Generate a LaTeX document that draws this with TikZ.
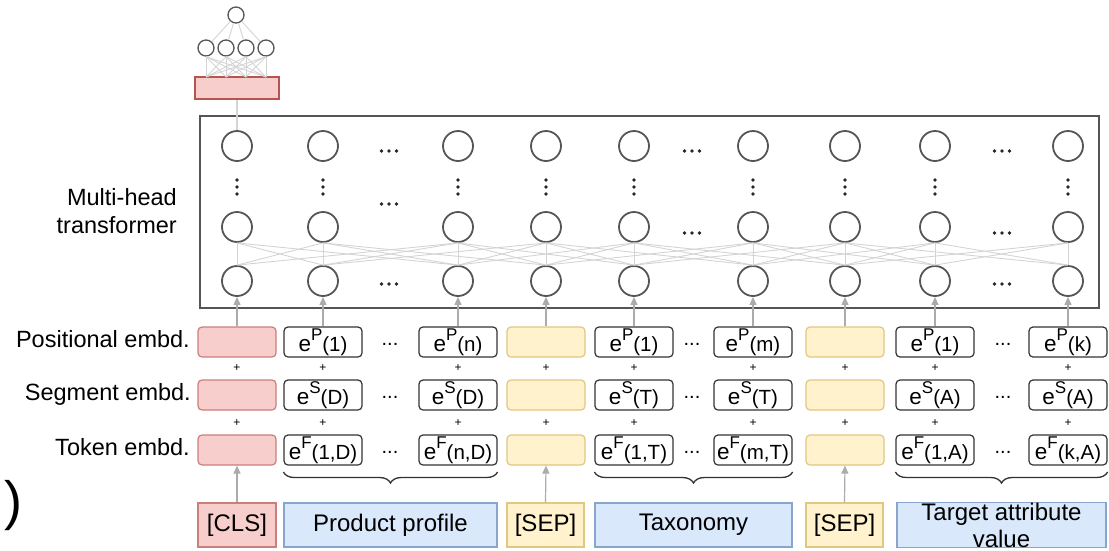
\documentclass[tikz,border=0pt]{standalone}
\usepackage{fontspec}
\setmainfont{Liberation Sans}
\usetikzlibrary{arrows.meta,decorations.pathreplacing,calc}

\definecolor{redfill}{HTML}{F8CECC}
\definecolor{redline}{HTML}{B85450}
\definecolor{yelfill}{HTML}{FFF2CC}
\definecolor{yelline}{HTML}{D6B656}
\definecolor{bluefill}{HTML}{DAE8FC}
\definecolor{blueline}{HTML}{6C8EBF}
\definecolor{ringcol}{HTML}{555555}
\definecolor{wirecol}{HTML}{D4D4D4}
\definecolor{arrowcol}{HTML}{ABABAB}

% embedding symbol: e, raised kind letter, smaller index on the baseline
\newcommand{\embtext}[2]{e\raisebox{11pt}{\fontsize{17}{17}\selectfont #1}{\fontsize{20.5}{20.5}\selectfont #2}}

\tikzset{
  neuron/.style={circle,draw=ringcol,line width=1.8pt,fill=white,minimum size=30pt,inner sep=0pt},
  smallneuron/.style={circle,draw=ringcol,line width=1.3pt,fill=white,minimum size=16pt,inner sep=0pt},
  wire/.style={draw=wirecol,line width=0.9pt},
  uparrow/.style={draw=arrowcol,line width=1.2pt,-{Triangle[width=7pt,length=8pt]}},
  embbox/.style={rectangle,rounded corners=4pt,minimum width=78pt,minimum height=30pt,inner sep=0pt,line width=1.2pt,font=\fontsize{22.5}{22.5}\selectfont},
  ebox/.style={embbox,draw=black!80,fill=white},
  redbox/.style={embbox,draw=redline!75,fill=redfill},
  yelbox/.style={embbox,draw=yelline!75,fill=yelfill},
  inbox/.style={rectangle,minimum height=44pt,inner sep=0pt,line width=1.2pt,font=\fontsize{24}{27}\selectfont,align=center},
  lab/.style={font=\fontsize{23.5}{28}\selectfont,inner sep=0pt},
  plus/.style={font=\fontsize{12}{12}\selectfont,inner sep=0pt},
  brc/.style={draw=black!80,line width=1.3pt,decorate,decoration={brace,mirror,amplitude=11pt}},
}

\begin{document}
\begin{tikzpicture}[x=1pt,y=-1pt]
\useasboundingbox (0,0) rectangle (1109,550);

% ---------- output head ----------
\node[smallneuron] (o) at (236,15) {};
\foreach \x [count=\i] in {206,226,246,266} {
  \node[smallneuron] (h\i) at (\x,48) {};
}
\node[rectangle,draw=redline,fill=redfill,line width=1.2pt,minimum width=84pt,minimum height=22pt,inner sep=0pt] (head) at (237,88) {};
\foreach \i in {1,...,4} {
  \draw[wire] (o) -- (h\i);
  \foreach \x in {206,226,246,266} {
    \coordinate (hx\i\x) at (\x,77);
    \draw[wire] (h\i.south) -- (hx\i\x);
  }
}

% ---------- transformer ----------
\node[draw=ringcol,line width=2pt,minimum width=899pt,minimum height=192pt,inner sep=0pt] (tbox) at (649.5,212) {};
\foreach \x [count=\i] in {237,323,458,546,634,753,845,935,1068} {
  \node[neuron] (t\i) at (\x,146) {};
  \node[neuron] (m\i) at (\x,227) {};
  \node[neuron] (b\i) at (\x,281) {};
  \foreach \dy in {180,187,194} \fill[black!85] (\x,\dy) circle (1.8pt);
}
\foreach \i in {1,...,9} {
  \foreach \j in {1,...,9} {
    \pgfmathtruncatemacro{\gap}{abs(\i-\j)}
    \ifnum\gap<3 \draw[wire] (m\i.south) -- (b\j.north); \fi
  }
}
\draw[wire,line width=1.2pt] (head.south) -- (t1.north);

% dots between neuron columns
\foreach \x/\y in {389/151,389/204,389/284,692/151,692/233,1002/151,1002/233,1002/284} {
  \foreach \dx in {-7.5,0,7.5} \fill[black!85] (\x+\dx,\y) circle (1.8pt);
}

\node[lab,anchor=base east] (tlabel1) at (177,205) {Multi-head};
\node[lab,anchor=base east] (tlabel2) at (177,233) {transformer};

% ---------- embeddings ----------
\node[lab,anchor=base east] (lp) at (190,347) {Positional embd.};
\node[lab,anchor=base east] (ls) at (191,400) {Segment embd.};
\node[lab,anchor=base east] (lf) at (190,455) {Token embd.};

% positional row
\node[redbox] (p1) at (237,342) {};
\node[ebox]   (p2) at (323,342) {\embtext{P}{(1)}};
\node[ebox]   (p3) at (458,342) {\embtext{P}{(n)}};
\node[yelbox] (p4) at (546,342) {};
\node[ebox]   (p5) at (634,342) {\embtext{P}{(1)}};
\node[ebox]   (p6) at (753,342) {\embtext{P}{(m)}};
\node[yelbox] (p7) at (845,342) {};
\node[ebox]   (p8) at (935,342) {\embtext{P}{(1)}};
\node[ebox]   (p9) at (1068,342) {\embtext{P}{(k)}};

% segment row
\node[redbox] (s1) at (237,395) {};
\node[ebox]   (s2) at (323,395) {\embtext{S}{(D)}};
\node[ebox]   (s3) at (458,395) {\embtext{S}{(D)}};
\node[yelbox] (s4) at (546,395) {};
\node[ebox]   (s5) at (634,395) {\embtext{S}{(T)}};
\node[ebox]   (s6) at (753,395) {\embtext{S}{(T)}};
\node[yelbox] (s7) at (845,395) {};
\node[ebox]   (s8) at (935,395) {\embtext{S}{(A)}};
\node[ebox]   (s9) at (1068,395) {\embtext{S}{(A)}};

% token row
\node[redbox] (f1) at (237,450) {};
\node[ebox]   (f2) at (323,450) {\embtext{F}{(1,D)}};
\node[ebox]   (f3) at (458,450) {\embtext{F}{(n,D)}};
\node[yelbox] (f4) at (546,450) {};
\node[ebox]   (f5) at (634,450) {\embtext{F}{(1,T)}};
\node[ebox]   (f6) at (753,450) {\embtext{F}{(m,T)}};
\node[yelbox] (f7) at (845,450) {};
\node[ebox]   (f8) at (935,450) {\embtext{F}{(1,A)}};
\node[ebox]   (f9) at (1068,450) {\embtext{F}{(k,A)}};

\foreach \x in {390,692,1003} {
  \foreach \y in {344,397,452} \node[lab,font=\fontsize{20}{20}\selectfont] at (\x,\y) {...};
}

% plus signs between rows, and embeddings feeding the transformer
\foreach \x [count=\i] in {237,323,458,546,634,753,845,935,1068} {
  \node[plus] (pa\i) at (\x,368) {+};
  \node[plus] (pb\i) at (\x,423) {+};
  \draw[uparrow] (p\i.north) -- (b\i.south);
}

% ---------- inputs ----------
\node[inbox,draw=redline!75,fill=redfill,minimum width=78pt] (in1) at (237,525) {[CLS]};
\node[inbox,draw=blueline!80,fill=bluefill,minimum width=213pt] (in2) at (390.5,525) {Product profile};
\node[inbox,draw=yelline!75,fill=yelfill,minimum width=77pt] (in3) at (545.5,525) {[SEP]};
\node[inbox,draw=blueline!80,fill=bluefill,minimum width=197pt] (in4) at (693.5,525) {Taxonomy};
\node[inbox,draw=yelline!75,fill=yelfill,minimum width=77pt] (in5) at (844.5,525) {[SEP]};
\node[inbox,draw=blueline!80,fill=bluefill,minimum width=209pt] (in6) at (1001.5,525) {Target attribute\\value};

\draw[uparrow] (in1.north) -- (f1.south);
\draw[uparrow] (in3.north) -- (f4.south);
\draw[uparrow] (in5.north) -- (f7.south);

\draw[brc] (f2.south west |- 0,472) -- (f3.south east |- 0,472);
\draw[brc] (f5.south west |- 0,472) -- (f6.south east |- 0,472);
\draw[brc] (f8.south west |- 0,472) -- (f9.south east |- 0,472);

\node[font=\fontsize{54}{54}\selectfont,inner sep=0pt] (paren) at (13,506) {)};
\end{tikzpicture}
\end{document}
